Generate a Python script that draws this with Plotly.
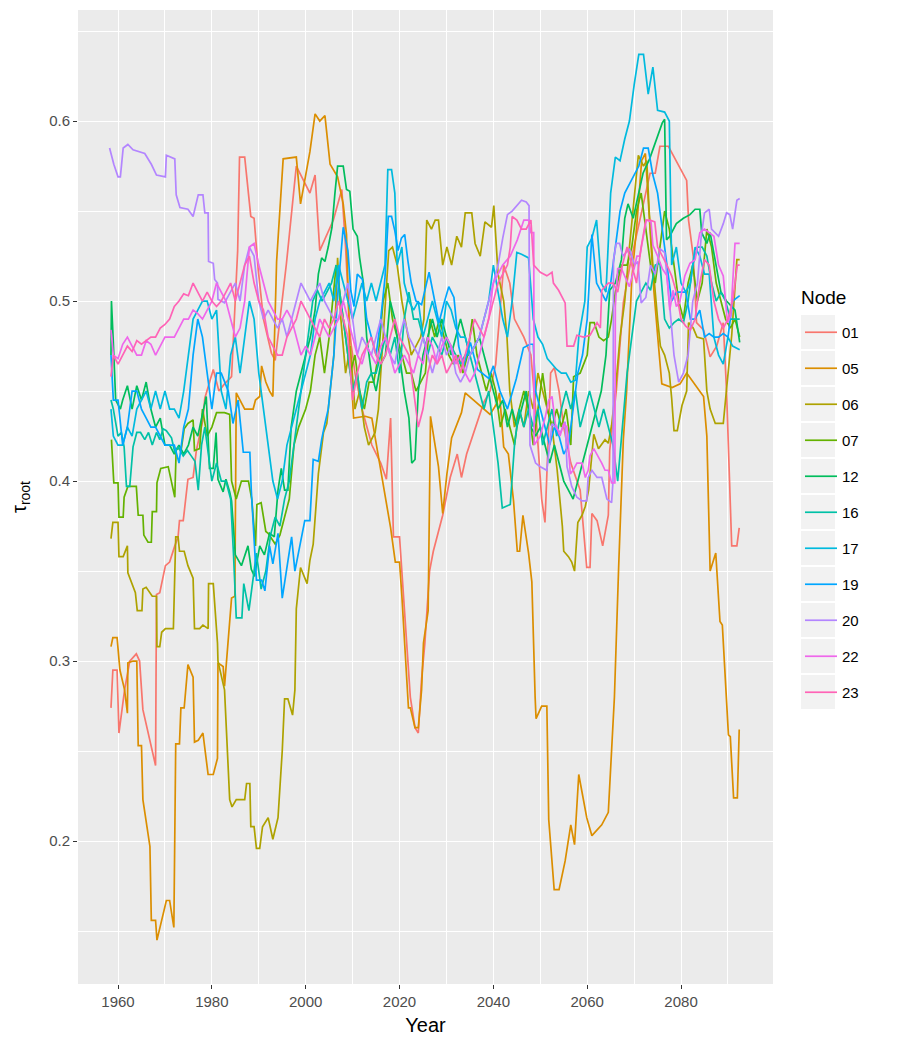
import plotly.graph_objects as go

# ---------------- data: (year, tau_root) per node ----------------
n01 = [(1958.5,0.274),(1958.9,0.295),(1959.8,0.295),(1960.2,0.260),(1961.4,0.284),(1962.5,0.300),(1963.9,0.304),(1964.6,0.300),(1965.3,0.273),(1968.0,0.242),(1968.2,0.337),(1968.9,0.338),(1970.1,0.353),(1971.0,0.355),(1972.1,0.364),(1972.8,0.369),(1973.1,0.378),(1973.9,0.378),(1974.9,0.401),(1976.0,0.402),(1976.7,0.417),(1978.1,0.434),(1978.5,0.446),(1979.5,0.455),(1980.3,0.462),(1981.5,0.450),(1982.7,0.454),(1984.2,0.458),(1985.5,0.528),(1985.9,0.580),(1987.0,0.580),(1988.3,0.547),(1989.0,0.546),(1989.9,0.517),(1991.0,0.490),(1992.7,0.471),(1993.5,0.467),(1995.9,0.521),(1998.0,0.575),(2000.9,0.560),(2002.0,0.570),(2003.0,0.528),(2004.5,0.537),(2005.9,0.545),(2007.7,0.562),(2008.5,0.530),(2009.5,0.480),(2010.5,0.460),(2012.0,0.440),(2014.1,0.420),(2016.0,0.410),(2017.2,0.401),(2018.1,0.435),(2018.7,0.369),(2020.0,0.369),(2021.0,0.330),(2022.3,0.280),(2023.3,0.263),(2024.0,0.260),(2024.7,0.290),(2025.4,0.310),(2026.4,0.350),(2027.2,0.361),(2029.2,0.381),(2030.8,0.402),(2032.3,0.415),(2033.2,0.402),(2034.3,0.415),(2036.5,0.433),(2038.0,0.444),(2039.3,0.450),(2040.5,0.465),(2042.2,0.520),(2043.5,0.510),(2044.5,0.490),(2046.5,0.480),(2048.0,0.470),(2049.0,0.440),(2050.3,0.390),(2051.0,0.377),(2051.6,0.417),(2052.2,0.460),(2053.0,0.463),(2054.0,0.450),(2055.0,0.430),(2056.5,0.410),(2058.5,0.395),(2059.9,0.352),(2060.6,0.352),(2061.0,0.382),(2062.1,0.378),(2063.3,0.364),(2064.5,0.381),(2064.8,0.417),(2066.2,0.450),(2066.8,0.470),(2067.7,0.499),(2069.2,0.521),(2071.3,0.546),(2073.4,0.571),(2074.5,0.571),(2075.5,0.586),(2077.3,0.586),(2081.2,0.567),(2081.6,0.545),(2082.6,0.525),(2083.3,0.488),(2084.8,0.484),(2086.2,0.469),(2087.6,0.475),(2089.0,0.488),(2089.7,0.450),(2090.8,0.364),(2091.9,0.364),(2092.4,0.374)]

n05 = [(1958.5,0.308),(1958.9,0.313),(1959.8,0.313),(1960.4,0.295),(1961.4,0.284),(1962.0,0.271),(1962.1,0.299),(1963.2,0.300),(1964.0,0.300),(1964.3,0.253),(1965.0,0.253),(1965.3,0.223),(1966.8,0.197),(1967.1,0.156),(1968.0,0.156),(1968.3,0.145),(1970.3,0.167),(1971.0,0.167),(1971.9,0.152),(1972.3,0.254),(1973.1,0.254),(1973.4,0.274),(1974.1,0.274),(1974.9,0.298),(1976.0,0.291),(1976.3,0.255),(1977.1,0.256),(1978.1,0.260),(1979.2,0.237),(1980.3,0.237),(1981.2,0.246),(1981.3,0.299),(1982.4,0.297),(1982.7,0.286),(1984.2,0.335),(1984.9,0.336),(1985.2,0.449),(1987.0,0.440),(1988.8,0.440),(1989.3,0.445),(1990.2,0.447),(1990.6,0.464),(1991.5,0.455),(1992.3,0.450),(1993.0,0.447),(1993.8,0.522),(1995.2,0.579),(1998.0,0.580),(1998.9,0.554),(2000.9,0.583),(2002.0,0.604),(2003.0,0.600),(2004.1,0.603),(2005.2,0.576),(2006.8,0.569),(2008.0,0.554),(2008.7,0.537),(2009.3,0.480),(2010.2,0.435),(2012.7,0.436),(2014.1,0.435),(2014.8,0.424),(2015.9,0.408),(2017.1,0.390),(2018.1,0.374),(2019.1,0.355),(2020.0,0.355),(2020.5,0.336),(2021.6,0.284),(2021.9,0.274),(2022.3,0.274),(2023.3,0.263),(2024.0,0.263),(2024.7,0.284),(2025.1,0.310),(2026.1,0.328),(2026.6,0.436),(2028.3,0.408),(2029.2,0.382),(2030.1,0.404),(2031.1,0.424),(2032.2,0.431),(2033.2,0.438),(2034.0,0.449),(2035.7,0.445),(2038.0,0.440),(2039.3,0.437),(2040.7,0.443),(2041.3,0.449),(2042.2,0.419),(2043.2,0.415),(2044.3,0.389),(2045.1,0.361),(2045.6,0.361),(2046.3,0.381),(2047.5,0.360),(2048.2,0.344),(2048.9,0.280),(2049.1,0.268),(2050.3,0.275),(2051.4,0.275),(2051.8,0.212),(2052.96,0.173),(2054.0,0.173),(2055.3,0.189),(2056.5,0.209),(2057.3,0.198),(2058.2,0.237),(2059.9,0.213),(2061.0,0.203),(2063.1,0.209),(2064.5,0.216),(2065.8,0.280),(2066.7,0.352),(2067.7,0.423),(2068.4,0.450),(2069.5,0.512),(2070.6,0.543),(2071.6,0.578),(2072.4,0.582),(2074.2,0.506),(2075.2,0.475),(2075.9,0.454),(2078.1,0.452),(2079.8,0.454),(2081.2,0.460),(2084.1,0.450),(2084.8,0.447),(2085.5,0.425),(2086.2,0.350),(2087.4,0.360),(2088.3,0.322),(2088.8,0.320),(2089.7,0.280),(2090.1,0.259),(2090.5,0.258),(2091.2,0.224),(2092.0,0.224),(2092.4,0.262)]

n06 = [(1958.5,0.368),(1958.9,0.377),(1960.0,0.377),(1960.2,0.358),(1961.1,0.358),(1962.0,0.364),(1962.1,0.349),(1963.0,0.343),(1963.7,0.338),(1964.1,0.328),(1965.1,0.328),(1965.3,0.340),(1966.0,0.341),(1967.3,0.336),(1968.2,0.336),(1968.3,0.308),(1968.9,0.308),(1969.3,0.316),(1970.1,0.318),(1971.8,0.318),(1972.3,0.369),(1972.8,0.369),(1973.1,0.361),(1974.1,0.361),(1974.9,0.353),(1976.0,0.346),(1976.3,0.318),(1977.4,0.318),(1978.1,0.320),(1979.2,0.318),(1979.3,0.343),(1980.3,0.343),(1981.2,0.310),(1981.3,0.300),(1982.7,0.284),(1983.8,0.223),(1984.3,0.219),(1985.2,0.223),(1987.0,0.223),(1987.4,0.232),(1988.1,0.232),(1988.3,0.208),(1989.0,0.208),(1989.5,0.196),(1990.2,0.196),(1990.8,0.208),(1992.0,0.213),(1993.0,0.201),(1994.1,0.213),(1995.0,0.250),(1995.5,0.279),(1996.2,0.279),(1997.2,0.270),(1997.7,0.284),(1998.0,0.329),(1998.9,0.352),(2000.3,0.343),(2000.9,0.356),(2001.6,0.365),(2002.7,0.404),(2003.8,0.427),(2004.5,0.432),(2005.2,0.450),(2006.0,0.470),(2006.8,0.524),(2007.5,0.490),(2008.5,0.460),(2009.5,0.475),(2010.5,0.440),(2011.5,0.450),(2012.5,0.430),(2013.4,0.420),(2014.8,0.427),(2015.5,0.440),(2016.5,0.480),(2017.7,0.528),(2018.5,0.530),(2019.5,0.520),(2020.5,0.500),(2021.2,0.490),(2022.5,0.470),(2023.5,0.475),(2024.5,0.480),(2025.2,0.490),(2025.8,0.545),(2026.8,0.540),(2027.6,0.545),(2028.3,0.545),(2029.2,0.520),(2030.1,0.530),(2031.1,0.520),(2032.2,0.536),(2033.2,0.530),(2034.0,0.549),(2035.4,0.549),(2036.1,0.532),(2037.2,0.525),(2038.2,0.544),(2039.6,0.541),(2040.1,0.553),(2041.0,0.515),(2042.2,0.500),(2042.9,0.480),(2043.5,0.450),(2044.5,0.430),(2045.5,0.440),(2046.5,0.430),(2047.5,0.450),(2048.5,0.440),(2049.5,0.460),(2050.5,0.450),(2051.5,0.440),(2052.5,0.430),(2053.6,0.406),(2054.7,0.375),(2055.0,0.361),(2056.0,0.358),(2056.7,0.355),(2057.3,0.350),(2058.0,0.377),(2058.9,0.381),(2059.6,0.386),(2060.3,0.395),(2061.4,0.426),(2062.4,0.418),(2063.8,0.423),(2064.5,0.421),(2065.2,0.431),(2066.0,0.450),(2067.0,0.480),(2068.0,0.500),(2069.0,0.530),(2070.2,0.560),(2070.9,0.581),(2072.0,0.575),(2072.7,0.578),(2073.2,0.550),(2074.0,0.520),(2075.0,0.490),(2075.6,0.475),(2076.5,0.470),(2077.5,0.460),(2078.0,0.446),(2078.5,0.428),(2079.2,0.428),(2080.2,0.442),(2081.2,0.450),(2081.6,0.488),(2082.6,0.485),(2083.4,0.480),(2084.8,0.479),(2085.5,0.450),(2086.2,0.440),(2087.3,0.432),(2089.0,0.432),(2089.7,0.450),(2090.8,0.481),(2091.9,0.523),(2092.5,0.523)]

n07 = [(1958.6,0.423),(1959.1,0.399),(1960.0,0.399),(1960.2,0.380),(1961.1,0.380),(1961.3,0.391),(1962.1,0.397),(1963.9,0.397),(1964.3,0.381),(1965.3,0.381),(1965.5,0.370),(1966.4,0.366),(1967.1,0.366),(1967.3,0.383),(1968.2,0.383),(1968.3,0.399),(1969.1,0.407),(1970.7,0.408),(1972.1,0.391),(1972.4,0.418),(1973.5,0.418),(1974.1,0.429),(1974.9,0.432),(1976.0,0.434),(1976.3,0.417),(1977.4,0.418),(1978.0,0.440),(1979.0,0.425),(1980.0,0.430),(1981.0,0.438),(1982.7,0.438),(1983.8,0.437),(1984.2,0.400),(1985.2,0.390),(1986.3,0.400),(1987.8,0.400),(1988.5,0.390),(1989.3,0.364),(1989.6,0.387),(1990.5,0.388),(1991.5,0.372),(1992.0,0.371),(1993.5,0.365),(1994.5,0.370),(1995.5,0.380),(1996.5,0.390),(1997.5,0.420),(1998.5,0.430),(2000.0,0.440),(2001.0,0.450),(2002.0,0.470),(2003.0,0.480),(2004.0,0.460),(2005.0,0.480),(2006.5,0.520),(2007.5,0.500),(2008.5,0.480),(2009.5,0.460),(2010.5,0.470),(2011.5,0.450),(2012.5,0.440),(2013.5,0.455),(2014.5,0.455),(2015.5,0.470),(2016.5,0.500),(2017.5,0.510),(2018.5,0.490),(2019.5,0.480),(2020.5,0.470),(2021.5,0.460),(2022.5,0.460),(2023.5,0.450),(2024.5,0.455),(2025.5,0.460),(2026.5,0.490),(2027.5,0.480),(2028.5,0.490),(2029.5,0.480),(2030.5,0.470),(2031.5,0.465),(2032.5,0.470),(2033.5,0.460),(2034.5,0.470),(2035.5,0.490),(2036.5,0.470),(2037.5,0.460),(2038.5,0.450),(2039.5,0.460),(2040.5,0.450),(2041.5,0.430),(2042.5,0.440),(2043.5,0.430),(2044.5,0.420),(2045.5,0.440),(2046.5,0.450),(2047.5,0.440),(2048.5,0.420),(2049.5,0.440),(2050.5,0.460),(2051.5,0.440),(2052.5,0.430),(2053.5,0.440),(2054.5,0.430),(2055.5,0.440),(2056.5,0.420),(2057.1,0.458),(2058.5,0.460),(2060.0,0.470),(2060.6,0.488),(2061.5,0.488),(2062.5,0.480),(2063.5,0.478),(2064.5,0.480),(2065.2,0.490),(2066.0,0.505),(2067.3,0.520),(2068.5,0.520),(2069.5,0.530),(2070.5,0.550),(2071.5,0.560),(2072.5,0.540),(2073.5,0.520),(2074.5,0.510),(2075.5,0.530),(2076.5,0.550),(2077.5,0.540),(2078.5,0.520),(2079.5,0.500),(2080.5,0.490),(2081.5,0.510),(2082.5,0.520),(2083.5,0.500),(2084.5,0.510),(2085.5,0.540),(2086.5,0.530),(2087.5,0.510),(2088.5,0.500),(2089.5,0.490),(2090.5,0.485),(2091.5,0.490),(2092.5,0.480)]

n12 = [(1958.5,0.470),(1958.6,0.500),(1959.0,0.477),(1959.5,0.445),(1960.5,0.440),(1961.0,0.445),(1962.0,0.453),(1963.0,0.440),(1964.0,0.453),(1965.0,0.445),(1966.0,0.455),(1967.0,0.440),(1968.0,0.430),(1969.0,0.435),(1970.0,0.420),(1971.0,0.420),(1972.0,0.415),(1973.0,0.420),(1974.0,0.415),(1975.0,0.420),(1976.0,0.430),(1977.0,0.425),(1978.8,0.447),(1979.5,0.407),(1980.3,0.407),(1980.9,0.427),(1981.3,0.401),(1982.4,0.394),(1983.0,0.401),(1983.8,0.394),(1984.2,0.389),(1985.0,0.359),(1986.3,0.353),(1987.0,0.359),(1987.7,0.364),(1988.4,0.351),(1989.1,0.347),(1990.2,0.364),(1991.2,0.359),(1992.3,0.371),(1993.3,0.369),(1994.1,0.395),(1994.8,0.407),(1995.5,0.395),(1996.2,0.395),(1996.9,0.430),(1998.0,0.450),(1999.0,0.460),(2000.0,0.470),(2001.0,0.480),(2002.0,0.495),(2002.7,0.515),(2003.4,0.524),(2004.1,0.522),(2004.8,0.530),(2005.6,0.541),(2006.2,0.559),(2006.8,0.575),(2008.0,0.575),(2008.7,0.562),(2009.4,0.561),(2010.1,0.540),(2011.0,0.536),(2011.5,0.524),(2012.3,0.510),(2013.0,0.480),(2014.0,0.460),(2015.0,0.450),(2016.0,0.465),(2017.0,0.470),(2018.0,0.500),(2019.0,0.490),(2020.0,0.470),(2021.0,0.450),(2022.0,0.435),(2022.6,0.410),(2023.3,0.412),(2024.0,0.450),(2025.0,0.470),(2026.0,0.480),(2027.0,0.490),(2028.0,0.480),(2029.0,0.490),(2030.0,0.480),(2031.0,0.470),(2032.0,0.480),(2033.0,0.490),(2034.0,0.480),(2035.0,0.470),(2036.0,0.475),(2037.0,0.480),(2038.0,0.470),(2039.0,0.460),(2040.0,0.450),(2041.0,0.440),(2042.0,0.445),(2043.0,0.430),(2044.0,0.440),(2045.0,0.430),(2046.0,0.440),(2047.0,0.450),(2048.0,0.430),(2049.0,0.425),(2050.0,0.430),(2051.0,0.420),(2052.0,0.410),(2053.0,0.420),(2054.0,0.410),(2055.0,0.400),(2056.0,0.395),(2057.0,0.390),(2058.0,0.400),(2059.0,0.410),(2060.0,0.420),(2061.0,0.430),(2062.0,0.440),(2063.0,0.450),(2064.0,0.470),(2064.8,0.506),(2066.0,0.510),(2067.3,0.523),(2068.0,0.546),(2068.7,0.554),(2069.8,0.546),(2070.5,0.554),(2071.9,0.571),(2073.3,0.579),(2074.4,0.587),(2075.1,0.592),(2076.0,0.599),(2076.5,0.601),(2076.9,0.534),(2077.6,0.536),(2079.0,0.543),(2080.5,0.546),(2081.9,0.548),(2083.0,0.551),(2084.0,0.551),(2084.4,0.538),(2085.5,0.532),(2086.2,0.538),(2087.5,0.520),(2088.5,0.505),(2089.7,0.500),(2090.8,0.497),(2091.5,0.495),(2092.5,0.477)]

n16 = [(1958.5,0.445),(1959.0,0.440),(1960.0,0.425),(1960.7,0.427),(1961.3,0.419),(1961.8,0.397),(1962.5,0.397),(1963.2,0.419),(1964.0,0.427),(1964.8,0.427),(1965.7,0.423),(1966.5,0.427),(1967.3,0.420),(1968.2,0.427),(1968.9,0.423),(1969.6,0.429),(1970.3,0.428),(1971.4,0.424),(1972.1,0.416),(1972.8,0.419),(1973.9,0.414),(1974.8,0.417),(1975.6,0.414),(1976.4,0.411),(1977.1,0.395),(1977.8,0.420),(1978.5,0.430),(1980.0,0.400),(1981.0,0.410),(1982.0,0.400),(1983.0,0.400),(1984.0,0.390),(1984.6,0.360),(1985.2,0.324),(1986.4,0.324),(1986.8,0.343),(1987.9,0.328),(1988.6,0.343),(1989.5,0.360),(1990.5,0.340),(1991.5,0.350),(1992.5,0.370),(1993.5,0.380),(1994.5,0.375),(1995.5,0.390),(1996.5,0.400),(1997.5,0.420),(1998.5,0.440),(1999.5,0.460),(2000.5,0.480),(2001.5,0.500),(2002.5,0.506),(2003.5,0.500),(2004.5,0.505),(2005.5,0.510),(2006.5,0.520),(2008.0,0.490),(2009.0,0.470),(2010.0,0.450),(2011.0,0.460),(2012.0,0.440),(2013.0,0.455),(2014.0,0.460),(2015.0,0.460),(2016.0,0.470),(2017.0,0.480),(2018.0,0.470),(2019.0,0.480),(2020.0,0.460),(2021.0,0.490),(2022.0,0.505),(2023.0,0.490),(2024.0,0.490),(2025.0,0.480),(2026.0,0.470),(2027.0,0.480),(2028.0,0.475),(2029.0,0.470),(2030.0,0.480),(2031.0,0.475),(2032.0,0.470),(2033.0,0.465),(2034.0,0.470),(2035.0,0.470),(2036.0,0.460),(2037.0,0.450),(2038.0,0.440),(2039.0,0.450),(2040.0,0.430),(2041.0,0.410),(2041.9,0.385),(2043.6,0.387),(2044.5,0.420),(2045.5,0.440),(2046.5,0.430),(2047.5,0.440),(2048.5,0.430),(2049.5,0.440),(2050.5,0.420),(2051.5,0.430),(2052.5,0.440),(2053.5,0.425),(2054.5,0.440),(2055.5,0.450),(2056.5,0.440),(2057.5,0.450),(2058.5,0.430),(2059.5,0.440),(2060.5,0.450),(2061.5,0.440),(2062.5,0.430),(2063.5,0.440),(2064.5,0.430),(2065.5,0.420),(2066.5,0.400),(2067.5,0.430),(2068.5,0.460),(2069.5,0.480),(2070.5,0.500),(2071.5,0.505),(2072.5,0.510),(2073.5,0.506),(2074.5,0.520),(2075.5,0.521),(2076.5,0.490),(2077.5,0.485),(2078.5,0.488),(2079.5,0.490),(2080.5,0.488),(2081.5,0.500),(2082.5,0.520),(2083.5,0.530),(2084.5,0.530),(2085.5,0.525),(2086.5,0.510),(2087.5,0.500),(2088.5,0.505),(2089.5,0.500),(2090.5,0.490),(2091.5,0.490),(2092.5,0.490)]

n17 = [(1958.5,0.440),(1959.0,0.425),(1960.0,0.420),(1961.0,0.420),(1962.0,0.430),(1963.0,0.425),(1964.0,0.440),(1965.0,0.445),(1966.0,0.450),(1967.0,0.440),(1968.0,0.450),(1969.0,0.440),(1970.0,0.450),(1971.0,0.440),(1972.0,0.440),(1973.0,0.435),(1974.0,0.450),(1975.0,0.470),(1976.0,0.490),(1977.0,0.495),(1978.0,0.500),(1979.0,0.500),(1980.0,0.490),(1981.0,0.495),(1982.0,0.450),(1983.0,0.440),(1984.0,0.470),(1985.0,0.480),(1986.0,0.460),(1987.0,0.480),(1988.0,0.500),(1989.0,0.490),(1990.0,0.460),(1991.0,0.440),(1992.0,0.420),(1993.0,0.400),(1994.0,0.390),(1995.0,0.400),(1996.0,0.420),(1997.0,0.430),(1998.0,0.440),(1999.0,0.450),(2000.0,0.460),(2001.0,0.470),(2002.0,0.490),(2003.0,0.500),(2004.0,0.505),(2005.0,0.510),(2006.0,0.500),(2007.0,0.520),(2008.0,0.510),(2009.0,0.500),(2010.0,0.490),(2011.0,0.500),(2012.0,0.510),(2013.0,0.500),(2014.0,0.510),(2015.0,0.500),(2016.0,0.510),(2016.9,0.520),(2017.5,0.573),(2018.3,0.573),(2019.0,0.560),(2019.5,0.520),(2020.5,0.530),(2021.0,0.510),(2022.0,0.500),(2023.0,0.495),(2024.0,0.500),(2025.0,0.480),(2026.0,0.490),(2027.0,0.500),(2028.0,0.490),(2029.0,0.480),(2030.0,0.500),(2031.0,0.495),(2032.0,0.485),(2033.0,0.480),(2034.0,0.480),(2035.0,0.470),(2036.0,0.475),(2037.0,0.480),(2038.0,0.490),(2039.0,0.500),(2040.0,0.520),(2041.0,0.505),(2042.0,0.490),(2043.0,0.480),(2044.0,0.500),(2045.0,0.527),(2046.0,0.526),(2047.5,0.524),(2048.5,0.490),(2049.5,0.480),(2050.5,0.476),(2051.5,0.468),(2052.5,0.465),(2053.5,0.462),(2054.5,0.460),(2055.5,0.460),(2056.5,0.455),(2057.5,0.456),(2058.2,0.480),(2059.5,0.500),(2060.0,0.530),(2061.0,0.535),(2062.0,0.545),(2063.0,0.510),(2064.0,0.505),(2065.0,0.560),(2066.0,0.580),(2067.0,0.578),(2068.0,0.590),(2069.0,0.600),(2070.0,0.620),(2071.0,0.637),(2072.0,0.637),(2073.0,0.615),(2074.0,0.630),(2075.0,0.606),(2076.5,0.605),(2077.5,0.600),(2078.0,0.520),(2079.0,0.530),(2080.0,0.510),(2081.0,0.505),(2082.0,0.510),(2083.0,0.530),(2084.0,0.525),(2085.0,0.515),(2086.0,0.515),(2087.0,0.480),(2088.0,0.470),(2089.0,0.465),(2090.0,0.480),(2091.0,0.475),(2092.5,0.473)]

n19 = [(1958.5,0.470),(1959.0,0.445),(1960.0,0.445),(1961.0,0.420),(1962.0,0.430),(1963.0,0.450),(1964.0,0.450),(1965.0,0.440),(1966.0,0.435),(1967.0,0.430),(1968.0,0.430),(1969.0,0.425),(1970.0,0.420),(1971.0,0.420),(1972.0,0.420),(1973.0,0.410),(1974.0,0.430),(1975.0,0.440),(1976.0,0.470),(1977.0,0.490),(1978.0,0.480),(1979.0,0.460),(1980.0,0.440),(1981.0,0.460),(1982.0,0.460),(1983.5,0.450),(1984.5,0.432),(1985.6,0.445),(1986.7,0.416),(1988.1,0.416),(1988.4,0.395),(1989.5,0.345),(1990.6,0.345),(1991.3,0.339),(1992.3,0.364),(1993.0,0.354),(1994.1,0.371),(1995.0,0.335),(1995.9,0.350),(1997.0,0.369),(1997.7,0.350),(1998.7,0.364),(1999.8,0.378),(2000.9,0.378),(2001.6,0.412),(2002.7,0.411),(2003.4,0.423),(2004.1,0.432),(2004.8,0.440),(2005.2,0.450),(2006.0,0.470),(2007.0,0.510),(2008.0,0.541),(2009.0,0.528),(2009.6,0.506),(2010.3,0.497),(2011.0,0.515),(2012.1,0.512),(2013.0,0.490),(2014.0,0.480),(2015.0,0.470),(2016.0,0.490),(2016.9,0.513),(2017.6,0.547),(2018.3,0.547),(2019.0,0.539),(2019.7,0.528),(2020.4,0.535),(2021.1,0.537),(2021.8,0.522),(2022.5,0.510),(2023.5,0.500),(2024.7,0.498),(2026.3,0.516),(2027.0,0.506),(2028.4,0.488),(2029.5,0.499),(2030.5,0.508),(2031.6,0.502),(2032.6,0.475),(2033.6,0.464),(2035.1,0.477),(2036.6,0.462),(2038.0,0.459),(2039.0,0.457),(2040.0,0.464),(2041.4,0.450),(2043.0,0.440),(2044.9,0.457),(2046.4,0.474),(2047.8,0.476),(2048.5,0.476),(2049.0,0.450),(2050.0,0.440),(2051.0,0.430),(2052.0,0.420),(2053.0,0.430),(2054.0,0.425),(2055.0,0.415),(2056.0,0.420),(2057.0,0.440),(2058.0,0.460),(2059.0,0.470),(2060.0,0.490),(2061.0,0.537),(2062.0,0.510),(2063.0,0.505),(2064.0,0.500),(2065.0,0.510),(2066.0,0.530),(2067.0,0.550),(2068.0,0.560),(2069.0,0.565),(2070.0,0.570),(2071.0,0.575),(2072.0,0.585),(2073.0,0.585),(2074.0,0.570),(2075.0,0.560),(2076.0,0.540),(2077.0,0.520),(2078.0,0.500),(2079.0,0.505),(2080.0,0.505),(2081.0,0.505),(2082.0,0.490),(2083.0,0.490),(2084.0,0.495),(2085.0,0.480),(2086.0,0.482),(2087.0,0.480),(2088.0,0.480),(2089.0,0.482),(2090.0,0.480),(2091.0,0.500),(2092.5,0.503)]

n20 = [(1958.2,0.585),(1959.1,0.576),(1960.0,0.569),(1960.5,0.569),(1961.1,0.585),(1962.1,0.587),(1963.2,0.584),(1965.7,0.582),(1967.1,0.576),(1968.2,0.570),(1970.1,0.569),(1970.3,0.581),(1972.1,0.579),(1972.4,0.559),(1973.2,0.552),(1974.9,0.551),(1976.0,0.547),(1977.1,0.559),(1978.1,0.559),(1978.5,0.549),(1979.2,0.549),(1979.3,0.522),(1980.3,0.521),(1980.6,0.512),(1981.2,0.510),(1981.3,0.501),(1982.7,0.499),(1984.0,0.505),(1985.0,0.510),(1986.0,0.500),(1987.0,0.520),(1988.0,0.530),(1989.0,0.525),(1990.0,0.500),(1991.0,0.490),(1992.0,0.495),(1993.0,0.490),(1994.0,0.485),(1995.0,0.490),(1996.0,0.480),(1997.0,0.490),(1998.0,0.500),(1999.0,0.510),(2000.0,0.505),(2001.0,0.500),(2002.0,0.505),(2003.0,0.510),(2004.0,0.500),(2005.0,0.495),(2006.0,0.490),(2007.0,0.490),(2008.0,0.500),(2009.0,0.510),(2010.0,0.490),(2011.0,0.470),(2012.0,0.480),(2013.0,0.475),(2014.0,0.470),(2015.0,0.480),(2016.0,0.490),(2017.0,0.480),(2018.0,0.470),(2019.0,0.465),(2020.0,0.480),(2021.0,0.490),(2022.0,0.480),(2023.0,0.475),(2024.0,0.470),(2025.0,0.480),(2026.0,0.470),(2027.0,0.460),(2028.0,0.470),(2029.0,0.480),(2030.0,0.470),(2031.0,0.475),(2032.0,0.460),(2033.0,0.455),(2034.0,0.460),(2035.0,0.470),(2036.0,0.475),(2037.0,0.480),(2038.0,0.490),(2039.0,0.500),(2040.0,0.510),(2041.0,0.520),(2042.0,0.535),(2043.0,0.548),(2044.0,0.550),(2045.0,0.553),(2046.0,0.556),(2047.0,0.555),(2047.6,0.553),(2047.8,0.420),(2049.0,0.410),(2050.0,0.408),(2051.4,0.406),(2052.5,0.432),(2054.3,0.427),(2055.3,0.433),(2055.7,0.408),(2056.7,0.397),(2057.8,0.391),(2058.9,0.389),(2059.9,0.389),(2060.2,0.402),(2061.0,0.406),(2062.1,0.402),(2063.1,0.402),(2064.2,0.390),(2065.2,0.388),(2065.5,0.400),(2065.6,0.523),(2066.2,0.532),(2066.9,0.532),(2067.6,0.525),(2069.0,0.529),(2070.1,0.520),(2070.8,0.522),(2071.5,0.499),(2072.5,0.502),(2073.5,0.520),(2074.5,0.515),(2075.5,0.529),(2076.5,0.527),(2077.5,0.500),(2078.5,0.470),(2079.5,0.455),(2080.5,0.460),(2081.5,0.470),(2082.5,0.500),(2083.5,0.510),(2084.3,0.536),(2085.0,0.549),(2086.0,0.551),(2086.5,0.540),(2088.0,0.536),(2089.0,0.543),(2089.7,0.549),(2090.4,0.548),(2091.0,0.540),(2091.9,0.556),(2092.5,0.557)]

n22 = [(1958.5,0.484),(1959.0,0.470),(1960.0,0.468),(1961.0,0.476),(1962.0,0.480),(1963.0,0.475),(1964.0,0.470),(1965.0,0.470),(1966.0,0.478),(1967.0,0.476),(1968.0,0.470),(1969.0,0.475),(1970.0,0.480),(1971.0,0.480),(1972.0,0.480),(1973.0,0.485),(1974.0,0.490),(1975.0,0.490),(1976.0,0.495),(1977.0,0.493),(1978.0,0.490),(1979.0,0.495),(1980.0,0.500),(1981.0,0.510),(1982.0,0.505),(1983.0,0.500),(1984.0,0.490),(1985.0,0.480),(1986.0,0.485),(1987.0,0.500),(1988.0,0.530),(1989.0,0.532),(1990.0,0.520),(1991.0,0.510),(1992.0,0.500),(1993.0,0.495),(1994.0,0.490),(1995.0,0.490),(1996.0,0.495),(1997.0,0.490),(1998.0,0.480),(1999.0,0.470),(2000.0,0.475),(2001.0,0.470),(2002.0,0.480),(2003.0,0.490),(2004.0,0.485),(2005.0,0.480),(2006.0,0.485),(2007.0,0.490),(2008.0,0.500),(2009.0,0.490),(2010.0,0.480),(2011.0,0.470),(2012.0,0.465),(2013.0,0.475),(2014.0,0.470),(2015.0,0.465),(2016.0,0.475),(2017.0,0.480),(2018.0,0.470),(2019.0,0.460),(2020.0,0.465),(2021.0,0.470),(2022.0,0.465),(2023.0,0.460),(2024.0,0.470),(2025.0,0.465),(2026.0,0.480),(2027.0,0.475),(2028.0,0.465),(2029.0,0.475),(2030.0,0.480),(2031.0,0.475),(2032.0,0.465),(2033.0,0.470),(2034.0,0.460),(2035.0,0.455),(2036.0,0.460),(2037.0,0.470),(2038.0,0.480),(2039.0,0.490),(2040.0,0.510),(2041.0,0.515),(2042.0,0.520),(2043.6,0.525),(2045.1,0.534),(2046.5,0.545),(2047.5,0.545),(2048.0,0.538),(2048.6,0.538),(2048.7,0.420),(2050.0,0.425),(2051.1,0.436),(2051.8,0.445),(2052.5,0.447),(2053.2,0.432),(2054.2,0.425),(2055.0,0.432),(2055.7,0.430),(2056.4,0.404),(2057.0,0.406),(2057.8,0.410),(2058.9,0.410),(2059.6,0.402),(2060.2,0.406),(2060.6,0.414),(2061.4,0.418),(2062.3,0.414),(2063.1,0.410),(2063.8,0.406),(2064.5,0.406),(2065.2,0.399),(2065.9,0.399),(2066.0,0.497),(2066.5,0.518),(2067.3,0.518),(2068.0,0.514),(2069.0,0.508),(2070.0,0.518),(2070.6,0.525),(2071.2,0.525),(2071.9,0.536),(2072.6,0.545),(2073.6,0.544),(2074.0,0.531),(2075.0,0.525),(2076.0,0.518),(2077.0,0.514),(2077.6,0.495),(2078.3,0.506),(2079.0,0.497),(2079.7,0.499),(2080.8,0.514),(2081.9,0.521),(2083.0,0.523),(2084.0,0.538),(2085.0,0.540),(2086.0,0.538),(2087.0,0.536),(2088.0,0.520),(2089.0,0.514),(2089.9,0.488),(2090.6,0.492),(2091.5,0.532),(2092.5,0.532)]

n23 = [(1958.5,0.458),(1959.0,0.470),(1960.0,0.465),(1961.0,0.470),(1962.0,0.475),(1963.0,0.472),(1964.0,0.478),(1965.0,0.476),(1966.0,0.478),(1967.0,0.480),(1968.0,0.480),(1969.0,0.485),(1970.0,0.487),(1971.0,0.490),(1972.0,0.497),(1973.0,0.500),(1974.0,0.504),(1975.0,0.503),(1976.0,0.510),(1977.0,0.505),(1978.0,0.500),(1979.0,0.505),(1980.0,0.500),(1981.0,0.497),(1982.0,0.500),(1983.0,0.505),(1984.0,0.510),(1985.0,0.500),(1986.0,0.510),(1987.0,0.520),(1988.0,0.525),(1989.0,0.510),(1990.0,0.500),(1991.0,0.495),(1992.0,0.480),(1993.0,0.475),(1994.0,0.470),(1995.0,0.470),(1996.0,0.480),(1997.0,0.485),(1998.0,0.490),(1999.0,0.500),(2000.0,0.495),(2001.0,0.490),(2002.0,0.485),(2003.0,0.480),(2004.0,0.490),(2005.0,0.485),(2006.0,0.490),(2007.0,0.500),(2008.0,0.490),(2009.0,0.480),(2010.0,0.445),(2011.0,0.460),(2012.0,0.470),(2013.0,0.475),(2014.0,0.480),(2015.0,0.470),(2016.0,0.465),(2017.0,0.470),(2018.0,0.480),(2019.0,0.490),(2020.0,0.480),(2021.0,0.475),(2022.0,0.470),(2023.0,0.450),(2024.0,0.430),(2025.0,0.440),(2026.0,0.460),(2027.0,0.470),(2028.0,0.465),(2029.0,0.470),(2030.0,0.460),(2031.0,0.465),(2032.0,0.470),(2033.0,0.460),(2034.0,0.470),(2035.0,0.480),(2036.0,0.490),(2037.0,0.485),(2038.0,0.480),(2039.0,0.490),(2040.0,0.500),(2041.0,0.510),(2042.0,0.515),(2043.0,0.520),(2043.6,0.530),(2044.0,0.547),(2045.0,0.545),(2046.0,0.540),(2047.0,0.540),(2048.0,0.545),(2048.6,0.520),(2050.0,0.516),(2051.4,0.514),(2052.5,0.516),(2052.8,0.510),(2053.9,0.506),(2055.3,0.499),(2055.7,0.475),(2057.1,0.475),(2057.8,0.481),(2059.2,0.480),(2060.6,0.481),(2062.1,0.488),(2062.8,0.485),(2063.1,0.506),(2064.5,0.510),(2065.5,0.510),(2066.5,0.505),(2067.5,0.520),(2068.5,0.530),(2069.5,0.520),(2070.5,0.510),(2071.5,0.530),(2072.5,0.545),(2073.4,0.545),(2074.4,0.544),(2075.0,0.530),(2076.0,0.525),(2077.0,0.520),(2078.0,0.514),(2079.0,0.505),(2080.0,0.490),(2081.0,0.486),(2082.0,0.484),(2083.0,0.490),(2084.0,0.510),(2085.0,0.523),(2086.0,0.520),(2087.0,0.500),(2088.0,0.490),(2089.0,0.485),(2090.0,0.490),(2091.0,0.500),(2092.0,0.520),(2092.5,0.520)]

node_names = ["01", "05", "06", "07", "12", "16", "17", "19", "20", "22", "23"]
node_series = [n01, n05, n06, n07, n12, n16, n17, n19, n20, n22, n23]
node_colors = ["#F8766D", "#DB8E00", "#AEA200", "#64B200", "#00BD5C", "#00C1A7",
               "#00BADE", "#00A6FF", "#B385FF", "#EF67EB", "#FF63B6"]

x_ticks = [1960, 1980, 2000, 2020, 2040, 2060, 2080]
y_ticks = [0.2, 0.3, 0.4, 0.5, 0.6]

# ---------------- figure ----------------
W, H = 900, 1050
ML, MR, MT, MB = 78, 127, 10, 66
PW, PH = W - ML - MR, H - MT - MB

fig = go.Figure()
for name, series, color in zip(node_names, node_series, node_colors):
    fig.add_trace(go.Scatter(
        x=[p[0] for p in series], y=[p[1] for p in series],
        mode="lines", name=name, legendgroup=name,
        line=dict(color=color, width=1.7),
    ))

FONT = "Liberation Sans, Arial, Helvetica, sans-serif"

# legend key backgrounds (ggplot-style grey boxes)
shapes = []
first_key_y = 332
for i in range(len(node_names)):
    cy = first_key_y + 36 * i
    x0, x1 = 801, 835
    y0, y1 = cy - 17, cy + 17
    shapes.append(dict(
        type="rect", xref="paper", yref="paper", layer="below",
        x0=(x0 - ML) / PW, x1=(x1 - ML) / PW,
        y0=1 - (y1 - MT) / PH, y1=1 - (y0 - MT) / PH,
        fillcolor="#F2F2F2", line=dict(width=0),
    ))

fig.update_layout(
    width=W, height=H,
    margin=dict(l=ML, r=MR, t=MT, b=MB),
    paper_bgcolor="white", plot_bgcolor="#EBEBEB",
    font=dict(family=FONT, color="#000000"),
    showlegend=True,
    legend=dict(
        font=dict(size=15, color="#000000"),
        xref="container", yref="container",
        x=800 / W, y=1 - 316 / H, xanchor="left", yanchor="top",
        bgcolor="rgba(0,0,0,0)", tracegroupgap=13.5, itemwidth=32,
    ),
    annotations=[dict(
        text="Node", xref="paper", yref="paper",
        x=(799 - ML) / PW, y=1 - (297 - MT) / PH,
        xanchor="left", yanchor="middle", showarrow=False,
        font=dict(size=19, color="#000000"),
    )],
    shapes=shapes,
    xaxis=dict(
        range=[1951.47, 2099.6], tickvals=x_ticks,
        showgrid=True, gridcolor="white", gridwidth=1.3,
        minor=dict(dtick=10, tick0=1950, showgrid=True, gridcolor="white", gridwidth=0.6, ticks=""),
        zeroline=False, showline=False,
        ticks="outside", ticklen=4, tickwidth=1, tickcolor="#333333",
        tickfont=dict(size=15, color="#4D4D4D"),
        title=dict(text="Year", font=dict(size=20), standoff=8),
    ),
    yaxis=dict(
        range=[0.1206, 0.6617], tickvals=y_ticks, tickformat=".1f",
        showgrid=True, gridcolor="white", gridwidth=1.3,
        minor=dict(dtick=0.1, tick0=0.15, showgrid=True, gridcolor="white", gridwidth=0.6, ticks=""),
        zeroline=False, showline=False,
        ticks="outside", ticklen=4, tickwidth=1, tickcolor="#333333",
        tickfont=dict(size=15, color="#4D4D4D"),
        title=dict(text="τ<sub>root</sub>", font=dict(size=20), standoff=17),
    ),
)

fig.write_html("out.html")
